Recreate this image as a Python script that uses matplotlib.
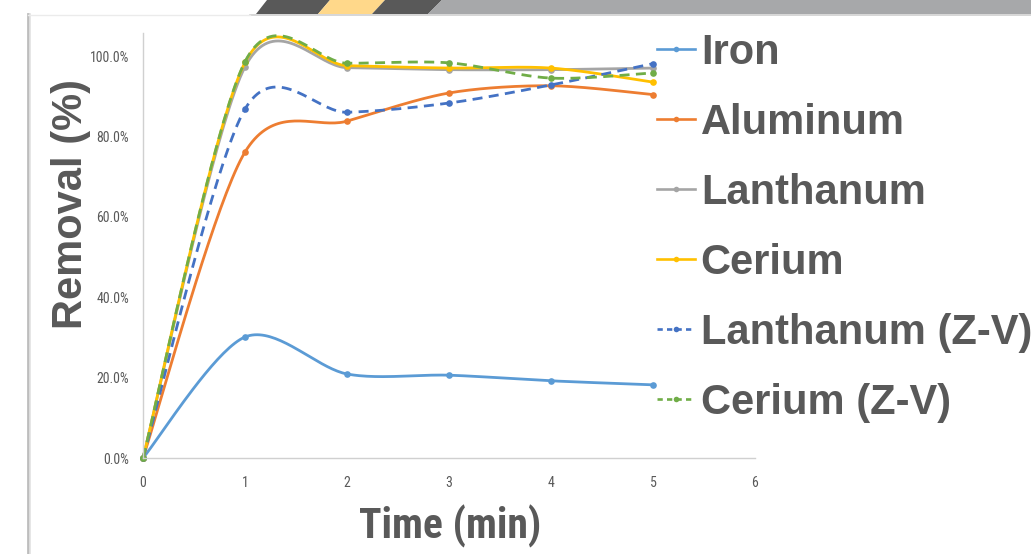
import numpy as np
import matplotlib
matplotlib.use("Agg")
import matplotlib.pyplot as plt
from matplotlib.lines import Line2D
from matplotlib.patches import Polygon
from matplotlib import font_manager as fm

# ---- data ----
time = [0, 1, 2, 3, 4, 5]
iron = [0, 30.1, 20.9, 20.6, 19.2, 18.2]
aluminum = [0, 76.1, 83.8, 90.8, 92.6, 90.4]
lanthanum = [0, 97.3, 97.1, 96.6, 96.6, 97.0]
cerium = [0, 98.4, 97.6, 97.0, 97.0, 93.5]
lanthanum_zv = [0, 86.8, 86.0, 88.3, 92.8, 98.1]
cerium_zv = [0, 98.6, 98.2, 98.3, 94.5, 95.8]

series_names = ["Iron", "Aluminum", "Lanthanum", "Cerium",
                "Lanthanum (Z-V)", "Cerium (Z-V)"]
series_values = [iron, aluminum, lanthanum, cerium, lanthanum_zv, cerium_zv]
colors = ["#5B9BD5", "#ED7D31", "#A5A5A5", "#FFC000", "#4472C4", "#70AD47"]
dashed = [False, False, False, False, True, True]

x_ticks = [0, 1, 2, 3, 4, 5, 6]
y_ticks = [0, 20, 40, 60, 80, 100]
y_ticklabels = ["0.0%", "20.0%", "40.0%", "60.0%", "80.0%", "100.0%"]


# ---- find a narrow font if one is installed ----
def find_narrow(bold):
    prefs = ["Liberation Sans Narrow", "Roboto Condensed", "Open Sans Condensed",
             "DejaVu Sans Condensed", "Noto Sans Condensed"]
    cands = []
    for f in fm.fontManager.ttflist:
        nm = f.name
        st = str(f.stretch)
        isnarrow = ("Narrow" in nm or "Condensed" in nm or
                    st in ("condensed", "semi-condensed") or
                    "Condensed" in f.fname or "Narrow" in f.fname)
        if not isnarrow or f.style != "normal":
            continue
        if "Mono" in nm or "Serif" in nm:
            continue
        w = f.weight if isinstance(f.weight, int) else fm.weight_dict.get(f.weight, 400)
        wscore = abs(w - (700 if bold else 400))
        pscore = next((i for i, p in enumerate(prefs) if p in nm or
                       p.replace(" ", "") in f.fname.replace(" ", "")), len(prefs))
        cands.append((wscore, pscore, f.fname))
    if not cands:
        return None
    cands.sort()
    return cands[0][2]


narrow_bold = find_narrow(True)
narrow_reg = find_narrow(False)


def fp(path, fallback_family, size, weight="normal"):
    if path:
        return fm.FontProperties(fname=path, size=size)
    return fm.FontProperties(family=fallback_family, size=size, weight=weight)


def smooth(xs, ys, n=40, k=0.15):
    """Excel-like smoothed line (cardinal Bezier spline) through the points."""
    P = np.column_stack([np.asarray(xs, float), np.asarray(ys, float)])
    out = []
    m = len(P)
    for i in range(m - 1):
        p0 = P[max(i - 1, 0)]
        p1 = P[i]
        p2 = P[i + 1]
        p3 = P[min(i + 2, m - 1)]
        c1 = p1 + (p2 - p0) * k
        c2 = p2 - (p3 - p1) * k
        t = np.linspace(0, 1, n)[:, None]
        seg = ((1 - t) ** 3) * p1 + 3 * ((1 - t) ** 2) * t * c1 + \
            3 * (1 - t) * t ** 2 * c2 + t ** 3 * p2
        if i > 0:
            seg = seg[1:]
        out.append(seg)
    out = np.vstack(out)
    return out[:, 0], out[:, 1]


W, H = 1031, 554
fig = plt.figure(figsize=(W / 100, H / 100), dpi=100)
fig.patch.set_facecolor("white")


def fx(px):
    return px / W


def fy(py):
    return 1 - py / H


# ---- decorative banner / panel ----
banner = [
    ([256, 318, 330, 267], "#595959"),
    ([318, 372, 385, 330], "#FFD88A"),
    ([372, 428, 442, 385], "#595959"),
    ([428, 1040, 1040, 442], "#A7A8AA"),
]
for xsb, col in banner:
    poly = Polygon([(fx(xsb[0]), fy(14)), (fx(xsb[1]), fy(14)),
                    (fx(xsb[2]), fy(0)), (fx(xsb[3]), fy(0))],
                   closed=True, transform=fig.transFigure,
                   facecolor=col, edgecolor="none", zorder=1)
    fig.patches.append(poly)
fig.add_artist(Line2D([fx(250), 1], [fy(14.5), fy(14.5)], color="#D0D0D0",
                      lw=1.2, transform=fig.transFigure, zorder=2))
fig.add_artist(Line2D([fx(28), fx(28)], [fy(14), 0], color="#BDBDBD",
                      lw=2.0, transform=fig.transFigure, zorder=2))
fig.add_artist(Line2D([fx(29.5), fx(29.5)], [fy(14), 0], color="#E2E2E2",
                      lw=1.2, transform=fig.transFigure, zorder=2))
fig.add_artist(Line2D([fx(28), fx(250)], [fy(14.5), fy(14.5)], color="#EBEBEB",
                      lw=1.0, transform=fig.transFigure, zorder=2))

# ---- axes ----
left, right, top, bottom = 143, 755, 33, 458
ax = fig.add_axes([fx(left), fy(bottom), fx(right - left), (bottom - top) / H])
ax.set_facecolor("none")

ymax = 100 * (bottom - top) / (458 - 56)
ax.set_xlim(0, 6)
ax.set_ylim(0, ymax)

handles = []
for name, vals, col, dsh in zip(series_names, series_values, colors, dashed):
    sx, sy = smooth(time, vals)
    kw = dict(color=col, lw=2.0, solid_capstyle="round", dash_capstyle="butt",
              clip_on=False)
    if dsh:
        ax.plot(sx, sy, linestyle=(0, (3.6, 2.3)), **kw)
    else:
        ax.plot(sx, sy, **kw)
    ax.plot(time, vals, linestyle="none", marker="o", markersize=4.8,
            color=col, markeredgewidth=0, clip_on=False)
    h = Line2D([], [], color=col, lw=1.9,
               linestyle=(0, (2.0, 1.6)) if dsh else "-",
               marker="o", markersize=4, markeredgewidth=0)
    handles.append(h)

for sp in ["top", "right"]:
    ax.spines[sp].set_visible(False)
for sp in ["left", "bottom"]:
    ax.spines[sp].set_color("#D0D0D0")
    ax.spines[sp].set_linewidth(1.0)

tick_size = 10 if narrow_reg else 8
ax.set_xticks(x_ticks)
ax.set_xticklabels([str(t) for t in x_ticks], color="#595959")
ax.set_yticks(y_ticks)
ax.set_yticklabels(y_ticklabels, color="#595959")
for lab in ax.get_xticklabels() + ax.get_yticklabels():
    lab.set_fontproperties(fp(narrow_reg, ["Roboto", "DejaVu Sans"], tick_size))
ax.tick_params(axis="both", length=0)
ax.tick_params(axis="y", pad=10)
ax.tick_params(axis="x", pad=13)

# ---- axis titles ----
fig.text(fx(71), fy(204), "Removal (%)", rotation=90, ha="center", va="center",
         family=["Liberation Sans", "DejaVu Sans"], weight="bold", size=30,
         color="#595959")
xlab_fp = fp(narrow_bold, ["Roboto", "DejaVu Sans"],
             30 if narrow_bold else 26, weight="bold")
fig.text(fx(450), fy(526), "Time (min)", ha="center", va="center",
         fontproperties=xlab_fp, color="#595959")

# ---- legend ----
leg = ax.legend(handles, series_names, loc="upper left",
                bbox_to_anchor=(fx(657), fy(33)), bbox_transform=fig.transFigure,
                frameon=False, handlelength=0.9, handletextpad=0.15,
                labelspacing=0.72, borderpad=0, borderaxespad=0,
                prop=dict(family=["Liberation Sans", "DejaVu Sans"],
                          weight="bold", size=30))
for t in leg.get_texts():
    t.set_color("#595959")

fig.savefig("out.png", dpi=100)
